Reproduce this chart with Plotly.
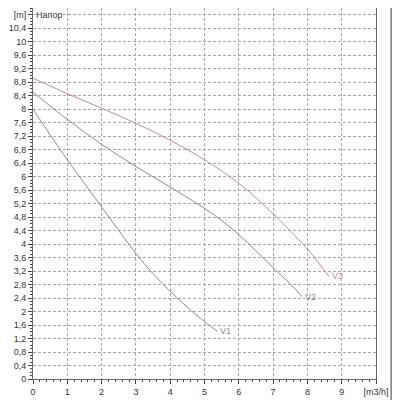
import plotly.graph_objects as go

# pump curves (flow m3/h, head m)
v1_q = [0, 0.5, 1, 1.5, 2, 2.5, 3, 3.5, 4, 4.5, 5, 5.37]
v1_h = [8.0, 7.24, 6.5, 5.8, 5.1, 4.4, 3.72, 3.12, 2.6, 2.13, 1.7, 1.42]

v2_q = [0, 1, 2, 3, 4, 5, 5.5, 6, 6.5, 7, 7.5, 7.85]
v2_h = [8.5, 7.7, 6.96, 6.3, 5.69, 5.06, 4.7, 4.28, 3.8, 3.3, 2.82, 2.44]

v3_q = [0, 1, 2, 3, 4, 5, 6, 7, 7.5, 8, 8.63]
v3_h = [8.92, 8.46, 8.03, 7.58, 7.08, 6.5, 5.8, 4.9, 4.39, 3.85, 3.04]

curve_names = ["V1", "V2", "V3"]
curve_colors = ["#8c8c8c", "#8c8c8c", "#c48c8c"]

x_ticks = [0, 1, 2, 3, 4, 5, 6, 7, 8, 9, 10]
x_labels = ["0", "1", "2", "3", "4", "5", "6", "7", "8", "9", "[m3/h]"]
y_ticks = [round(i * 0.4, 1) for i in range(28)]
y_labels = [("%g" % v).replace(".", ",") for v in y_ticks[:-1]] + ["[m]"]

font = "Liberation Sans"

fig = go.Figure()
for q, h, name, col in zip([v1_q, v2_q, v3_q], [v1_h, v2_h, v3_h], curve_names, curve_colors):
    fig.add_trace(go.Scatter(x=q, y=h, mode="lines", name=name,
                             line=dict(color=col, width=1, shape="spline", smoothing=1)))
    fig.add_annotation(x=q[-1], y=h[-1], text=name, showarrow=False,
                       xanchor="left", yanchor="middle", xshift=1,
                       font=dict(family=font, size=9, color=col))

fig.add_annotation(x=0, y=10.8, text="Напор", showarrow=False, xanchor="left",
                   xshift=2, bgcolor="white", borderpad=0,
                   font=dict(family=font, size=9, color="#333"))

# border of the window on the right
fig.add_shape(type="line", xref="paper", yref="paper", x0=1.046, x1=1.046, y0=-0.06, y1=1.03,
              layer="above", line=dict(color="#8a8a8a", width=3))

axis_common = dict(showline=True, linecolor="#666", linewidth=1, mirror=True,
                   ticks="outside", ticklen=4, tickcolor="#444", zeroline=False,
                   gridcolor="#a8a8a8", griddash="3px,2px", gridwidth=1,
                   automargin=False,
                   tickfont=dict(family=font, size=9, color="#333"))

fig.update_xaxes(range=[0, 10], tickmode="array", tickvals=x_ticks, ticktext=x_labels,
                 minor=dict(tickmode="linear", tick0=0, dtick=0.2, ticks="outside",
                            ticklen=2, tickcolor="#444", showgrid=False),
                 **axis_common)
fig.update_yaxes(range=[0, 11], tickmode="array", tickvals=y_ticks, ticktext=y_labels,
                 minor=dict(tickmode="linear", tick0=0, dtick=0.1, ticks="outside",
                            ticklen=2, tickcolor="#444", showgrid=False),
                 **axis_common)

# the page has 8px body margin, so the figure is sized to sit inside 400x400
fig.update_layout(width=392, height=392, showlegend=False,
                  margin=dict(l=25, r=24, t=0, b=21),
                  plot_bgcolor="white", paper_bgcolor="white")

fig.write_html("out.html")
